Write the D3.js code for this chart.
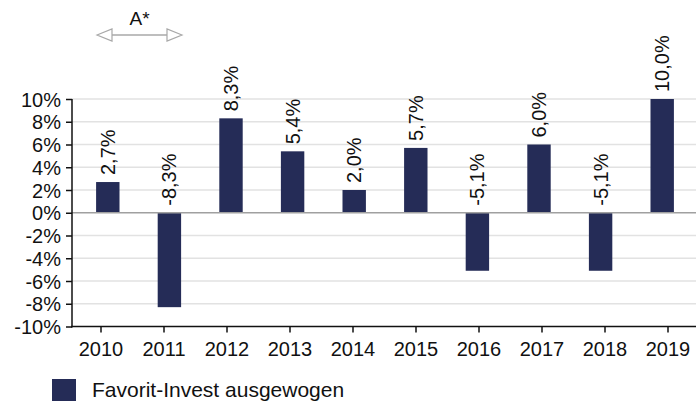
<!DOCTYPE html>
<html>
<head>
<meta charset="utf-8">
<script src="https://cdn.jsdelivr.net/npm/d3@7"></script>
<style>
  body { margin: 0; background: #fff; }
  svg text { font-family: Arial, "Liberation Sans", sans-serif; fill: #111; }
</style>
</head>
<body>
<div id="chart"></div>
<script>
// data
const years = ['2010', '2011', '2012', '2013', '2014', '2015', '2016', '2017', '2018', '2019'];
const returns = [2.7, -8.3, 8.3, 5.4, 2.0, 5.7, -5.1, 6.0, -5.1, 10.0];
const yTicks = [-10, -8, -6, -4, -2, 0, 2, 4, 6, 8, 10];
const seriesName = 'Favorit-Invest ausgewogen';

const width = 696, height = 403;
const barColor = '#252c57';
const fontSize = 20;

const svg = d3.select('#chart').append('svg')
  .attr('width', width)
  .attr('height', height);

// scales
const xTicks = d3.scaleBand().domain(years).range([69.5, 699.5]);
const xBars = d3.scaleBand().domain(years).range([77, 693]).paddingInner(0.62).paddingOuter(0.31);
const y = d3.scaleLinear().domain([-10, 10]).range([326.5, 99]);

// german style: comma decimal, plain hyphen for minus
const fmt = v => (v < 0 ? '-' : '') + Math.abs(v).toFixed(1).replace('.', ',') + '%';

// gridlines
svg.append('g')
  .selectAll('line')
  .data(yTicks.filter(d => d !== 0 && d !== -10))
  .enter().append('line')
    .attr('x1', 72).attr('x2', width)
    .attr('y1', d => y(d)).attr('y2', d => y(d))
    .attr('stroke', '#e2e2e2')
    .attr('stroke-width', 1.5);

// bars
svg.append('g')
  .selectAll('rect')
  .data(returns)
  .enter().append('rect')
    .attr('x', (d, i) => xBars(years[i]))
    .attr('width', xBars.bandwidth())
    .attr('y', d => y(Math.max(0, d)))
    .attr('height', d => Math.abs(y(d) - y(0)))
    .attr('fill', barColor);

// zero line
svg.append('line')
  .attr('x1', 72).attr('x2', width)
  .attr('y1', y(0)).attr('y2', y(0))
  .attr('stroke', '#a0a0a0')
  .attr('stroke-width', 1.5);

// value labels, rotated
svg.append('g')
  .selectAll('text')
  .data(returns)
  .enter().append('text')
    .attr('transform', (d, i) => {
      const cx = xBars(years[i]) + xBars.bandwidth() / 2 + 7;
      const ty = (d > 0 ? y(d) : y(0)) - 7;
      return `translate(${cx},${ty}) rotate(-90)`;
    })
    .attr('text-anchor', 'start')
    .style('font-size', fontSize + 'px')
    .text(d => fmt(d));

// y axis
const yAxis = svg.append('g')
  .attr('transform', 'translate(72,0)')
  .call(d3.axisLeft(y).tickValues(yTicks).tickFormat(d => d + '%').tickSize(6).tickPadding(5));
yAxis.select('.domain').attr('d', `M0,${y(10)}V${y(-10) + 1}`).attr('stroke', '#111').attr('stroke-width', 1.5);
yAxis.selectAll('.tick line').attr('stroke', '#111').attr('stroke-width', 1.5);
yAxis.selectAll('.tick text').style('font-size', fontSize + 'px').attr('fill', '#111').attr('dy', '0.36em');

// x axis
const xAxis = svg.append('g')
  .attr('transform', `translate(0,${y(-10)})`)
  .call(d3.axisBottom(xTicks).tickSize(6).tickPadding(9));
xAxis.select('.domain').attr('d', `M71,0H${width}`).attr('stroke', '#111').attr('stroke-width', 1.5);
xAxis.selectAll('.tick line').attr('stroke', '#111').attr('stroke-width', 1.5);
xAxis.selectAll('.tick text').style('font-size', fontSize + 'px').attr('fill', '#111');

// "A*" marker with double arrow above 2010-2011
const arrowColor = '#a8a8a8';
const half = xTicks.bandwidth() / 2;
const ax1 = xTicks('2010') + half - 4, ax2 = xTicks('2011') + half + 18;
const ay = 35;
svg.append('line')
  .attr('x1', ax1 + 14).attr('x2', ax2 - 14)
  .attr('y1', ay).attr('y2', ay)
  .attr('stroke', arrowColor).attr('stroke-width', 1.5);
svg.append('path')
  .attr('d', `M${ax1},${ay}L${ax1 + 15},${ay - 6}L${ax1 + 15},${ay + 6}Z`)
  .attr('fill', '#fff').attr('stroke', arrowColor).attr('stroke-width', 1.2);
svg.append('path')
  .attr('d', `M${ax2},${ay}L${ax2 - 15},${ay - 6}L${ax2 - 15},${ay + 6}Z`)
  .attr('fill', '#fff').attr('stroke', arrowColor).attr('stroke-width', 1.2);
svg.append('text')
  .attr('x', (ax1 + ax2) / 2)
  .attr('y', 25)
  .attr('text-anchor', 'middle')
  .style('font-size', '19px')
  .text('A*');

// legend
const legend = svg.append('g').attr('transform', 'translate(52,379)');
legend.append('rect')
  .attr('width', 24).attr('height', 22)
  .attr('fill', barColor);
legend.append('text')
  .attr('x', 40).attr('y', 18)
  .style('font-size', '21px')
  .text(seriesName);
</script>
</body>
</html>
